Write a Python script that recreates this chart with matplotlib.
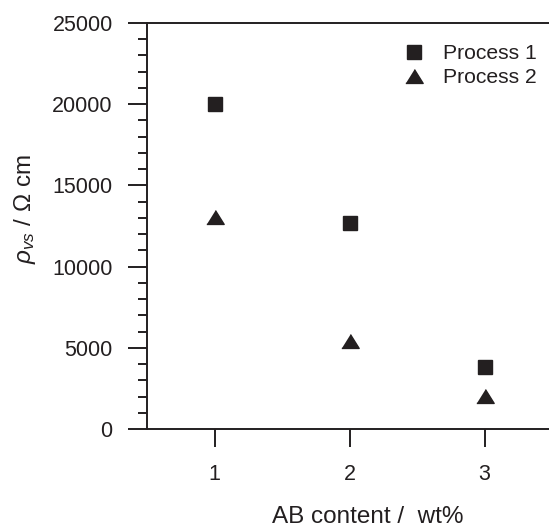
import matplotlib
matplotlib.use("Agg")
import matplotlib.pyplot as plt
from matplotlib.ticker import MultipleLocator

plt.rcParams['font.family'] = ['Liberation Sans', 'DejaVu Sans']
plt.rcParams['mathtext.fontset'] = 'custom'
plt.rcParams['mathtext.rm'] = 'Liberation Sans'
plt.rcParams['mathtext.it'] = 'Liberation Sans:italic'

# Data
ab_content = [1, 2, 3]
process1 = [20000, 12700, 3800]
process2 = [13050, 5400, 2050]
series_labels = ['Process 1', 'Process 2']
x_ticks = [1, 2, 3]

W, H = 549, 528
fig = plt.figure(figsize=(W / 100, H / 100), dpi=100)
ax = fig.add_axes([147 / W, (H - 429) / H, (552 - 147) / W, (429 - 23) / H])

col = '#231f20'
tri = [(-1, -0.8), (1, -0.8), (0, 0.8)]
ax.plot(ab_content, process1, linestyle='none', marker='s', markersize=9.5,
        color=col, label=series_labels[0])
ax.plot(ab_content, process2, linestyle='none', marker=tri, markersize=12.5,
        color=col, label=series_labels[1])

ax.set_xlim(0.5, 3.5)
ax.set_ylim(0, 25000)
ax.set_xticks(x_ticks)
ax.yaxis.set_major_locator(MultipleLocator(5000))
ax.yaxis.set_minor_locator(MultipleLocator(1000))

for s in ['left', 'bottom', 'top']:
    ax.spines[s].set_linewidth(1.4)
    ax.spines[s].set_color('#231f20')
ax.spines['right'].set_visible(False)

ax.tick_params(axis='x', which='major', direction='out', length=13, width=1.4,
               pad=12, labelsize=15.5, color='#231f20', labelcolor='#231f20')
ax.tick_params(axis='y', which='major', direction='out', length=13.7, width=1.4,
               pad=11, labelsize=15.5, color='#231f20', labelcolor='#231f20')
ax.tick_params(axis='y', which='minor', direction='out', length=6.5, width=1.4,
               color='#231f20')

leg = ax.legend(loc='upper left', bbox_to_anchor=(403 / W, (H - 44) / H),
                bbox_transform=fig.transFigure, frameon=False, fontsize=15.2,
                handlelength=1.0, handletextpad=0.9, borderpad=0, borderaxespad=0,
                labelspacing=0.24)
for t in leg.get_texts():
    t.set_color('#231f20')

fig.text(368 / W, (H - 517) / H, 'AB content /  wt%', ha='center', va='center',
         fontsize=17.5, color='#231f20')
fig.text(25 / W, (H - 209) / H, r'$\rho_{vs}$ / Ω cm', rotation=90, ha='center',
         va='center', fontsize=17.5, color='#231f20')

fig.savefig('out.png', dpi=100)
